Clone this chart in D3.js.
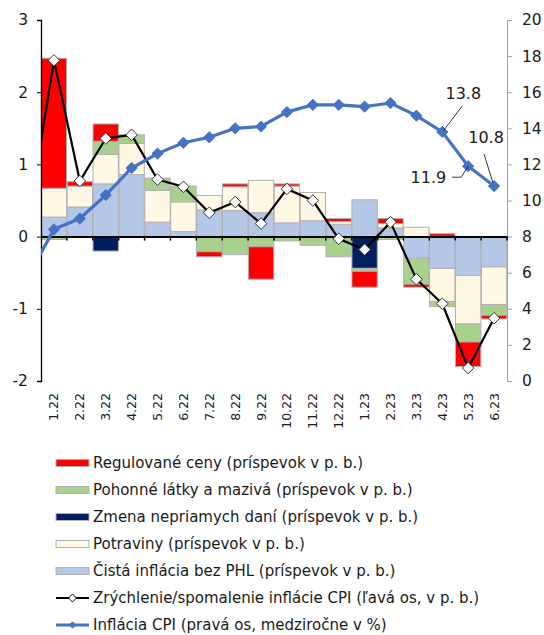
<!DOCTYPE html>
<html>
<head>
<meta charset="utf-8">
<script src="https://cdn.jsdelivr.net/npm/d3@7"></script>
<style>
  body { margin: 0; background: #fff; }
  svg text { font-family: "DejaVu Sans", Verdana, sans-serif; fill: #1a1a1a; }
</style>
</head>
<body>
<div id="chart"></div>
<script>
// inflation contributions chart

const months = ["1.22", "2.22", "3.22", "4.22", "5.22", "6.22", "7.22", "8.22", "9.22",
    "10.22", "11.22", "12.22", "1.23", "2.23", "3.23", "4.23", "5.23", "6.23"];

// contributions in p.p. (stacked bars)
const regulated = [1.80, 0.06, 0.24, 0, 0, 0, -0.07, 0.04, -0.45, 0.03, 0, 0.04, -0.22, 0.07, -0.04, 0.04, -0.34, -0.05];
const fuel = [-0.04, 0, 0.18, 0.12, 0.17, 0.22, -0.21, -0.25, -0.14, -0.06, -0.12, -0.28, -0.04, -0.04, -0.36, -0.07, -0.25, -0.15];
const taxes = [0, 0, -0.20, 0, 0, 0, 0, 0, 0, 0, 0, 0, -0.44, 0, 0, 0, 0, 0];
const food = [0.40, 0.29, 0.41, 0.43, 0.44, 0.41, 0.20, 0.33, 0.45, 0.51, 0.39, 0.04, 0, 0.06, 0.13, -0.46, -0.67, -0.52];
const core = [0.27, 0.41, 0.73, 0.86, 0.20, 0.07, 0.37, 0.36, 0.33, 0.19, 0.22, 0.17, 0.51, 0.12, -0.30, -0.44, -0.54, -0.42];

// acceleration of CPI (left axis) and CPI y/y (right axis)
const accel = [2.44, 0.77, 1.36, 1.41, 0.79, 0.69, 0.33, 0.48, 0.18, 0.66, 0.50, -0.03, -0.18, 0.20, -0.59, -0.93, -1.82, -1.13];
const cpi = [8.4, 9.0, 10.3, 11.8, 12.6, 13.2, 13.5, 14.0, 14.1, 14.9, 15.3, 15.3, 15.2, 15.4, 14.7, 13.8, 11.9, 10.8];
// previous month (12.21), only the line stub entering the plot is visible
const prevAccel = 0.2;
const prevCpi = 5.8;

const leftTicks = [-2, -1, 0, 1, 2, 3];
const rightTicks = [0, 2, 4, 6, 8, 10, 12, 14, 16, 18, 20];

const labelled = [
    { month: "4.23", text: "13.8" },
    { month: "5.23", text: "11.9" },
    { month: "6.23", text: "10.8" }
];

const series = [
    { key: "reg", name: "Regulované ceny (príspevok v p. b.)", color: "#ff0000", values: regulated },
    { key: "fuel", name: "Pohonné látky a mazivá (príspevok v p. b.)", color: "#a9d18e", values: fuel },
    { key: "tax", name: "Zmena nepriamych daní (príspevok v p. b.)", color: "#002060", values: taxes },
    { key: "food", name: "Potraviny (príspevok v p. b.)", color: "#fff8e4", values: food },
    { key: "core", name: "Čistá inflácia bez PHL (príspevok v p. b.)", color: "#b4c7e7", values: core }
];

const width = 544, height = 635;
const margin = { top: 20, right: 37, bottom: 254, left: 41 };
const plotW = width - margin.left - margin.right;
const plotH = height - margin.top - margin.bottom;

const svg = d3.select("#chart").append("svg")
    .attr("width", width)
    .attr("height", height);

const g = svg.append("g")
    .attr("transform", `translate(${margin.left}, ${margin.top})`);

const x = d3.scaleBand().domain(months).range([0, plotW]).paddingInner(0.02).paddingOuter(0.01);
const yL = d3.scaleLinear().domain([-2, 3]).range([plotH, 0]);
const yR = d3.scaleLinear().domain([0, 20]).range([plotH, 0]);

// table for stacking
const table = months.map((m, i) => {
    const row = { month: m };
    series.forEach(s => row[s.key] = s.values[i]);
    return row;
});

// stack bottom-up: core, food, tax, fuel, regulated
const stackKeys = ["core", "food", "tax", "fuel", "reg"];
const stacked = d3.stack().keys(stackKeys).offset(d3.stackOffsetDiverging)(table);
const colorOf = {};
series.forEach(s => colorOf[s.key] = s.color);

g.append("clipPath").attr("id", "plotclip")
    .append("rect").attr("width", plotW).attr("height", plotH);

g.append("g").selectAll("g")
    .data(stacked)
    .enter().append("g")
    .attr("fill", d => colorOf[d.key])
    .selectAll("rect")
    .data(d => d.filter(p => p[1] - p[0] !== 0))
    .enter().append("rect")
    .attr("x", d => x(d.data.month))
    .attr("width", x.bandwidth())
    .attr("y", d => yL(Math.max(d[0], d[1])))
    .attr("height", d => Math.abs(yL(d[0]) - yL(d[1])))
    .attr("stroke", "#b0b0b0")
    .attr("stroke-width", 1);

// left axis
const axL = g.append("g")
    .call(d3.axisLeft(yL).tickValues(leftTicks).tickSize(4).tickPadding(9).tickFormat(d => String(d)));
axL.select(".domain").attr("stroke", "#000").attr("stroke-width", 1.3);
axL.selectAll(".tick line").attr("stroke", "#000");
axL.selectAll("text").style("font-size", "15.5px").attr("fill", "#1a1a1a");

// right axis
const axR = g.append("g")
    .attr("transform", `translate(${plotW}, 0)`)
    .call(d3.axisRight(yR).tickValues(rightTicks).tickSize(5).tickPadding(10));
axR.select(".domain").attr("stroke", "#a0a0a0");
axR.selectAll(".tick line").attr("stroke", "#a0a0a0");
axR.selectAll("text").style("font-size", "15.5px").attr("fill", "#1a1a1a");

// zero line with category ticks
const axX = g.append("g")
    .attr("transform", `translate(0, ${yL(0)})`)
    .call(d3.axisBottom(x).tickSize(0).tickFormat(""));
axX.select(".domain").attr("stroke", "#000").attr("stroke-width", 2);
axX.selectAll(".tick").remove();
axX.selectAll(".sep")
    .data(d3.range(1, months.length + 1))
    .enter().append("line")
    .attr("x1", i => i * x.step()).attr("x2", i => i * x.step())
    .attr("y1", 0).attr("y2", 4)
    .attr("stroke", "#000").attr("stroke-width", 1.5);

// category labels, rotated
g.append("g").selectAll("text")
    .data(months)
    .enter().append("text")
    .attr("transform", d => `translate(${x(d) + x.bandwidth() / 2}, ${plotH + 12}) rotate(-90)`)
    .attr("text-anchor", "end")
    .attr("dy", "0.36em")
    .style("font-size", "12.5px")
    .text(d => d);

const cx = m => x(m) + x.bandwidth() / 2;
const firstX = cx(months[0]) - x.step();

const lines = g.append("g").attr("clip-path", "url(#plotclip)");

// acceleration line (left axis)
const accelPts = [[firstX, yL(prevAccel)]].concat(months.map((m, i) => [cx(m), yL(accel[i])]));
lines.append("path")
    .attr("d", d3.line()(accelPts))
    .attr("fill", "none")
    .attr("stroke", "#000")
    .attr("stroke-width", 2.2);

// CPI line (right axis)
const cpiPts = [[firstX, yR(prevCpi)]].concat(months.map((m, i) => [cx(m), yR(cpi[i])]));
lines.append("path")
    .attr("d", d3.line()(cpiPts))
    .attr("fill", "none")
    .attr("stroke", "#4472c4")
    .attr("stroke-width", 3.2);

const diamond = d3.symbol().type(d3.symbolDiamond2);

g.append("g").selectAll("path")
    .data(months)
    .enter().append("path")
    .attr("transform", (m, i) => `translate(${cx(m)}, ${yR(cpi[i])})`)
    .attr("d", diamond.size(80)())
    .attr("fill", "#4472c4")
    .attr("stroke", "#4472c4");

g.append("g").selectAll("path")
    .data(months)
    .enter().append("path")
    .attr("transform", (m, i) => `translate(${cx(m)}, ${yL(accel[i])})`)
    .attr("d", diamond.size(85)())
    .attr("fill", "#fff")
    .attr("stroke", "#333")
    .attr("stroke-width", 1);

// data labels for the last CPI values with leader lines
const labelOffsets = {
    "4.23": { tx: 21, ty: -33, lead: [[20, -26], [1, -1]], anchor: "middle" },
    "5.23": { tx: -22, ty: 17, lead: [[-16, 11], [-7, 11], [0, 0]], anchor: "end" },
    "6.23": { tx: -8, ty: -43, lead: [[-10, -32], [-1, -3]], anchor: "middle" }
};
const labG = g.append("g");
labelled.forEach(l => {
    const i = months.indexOf(l.month);
    const px = cx(l.month), py = yR(cpi[i]);
    const o = labelOffsets[l.month];
    labG.append("path")
        .attr("d", d3.line()(o.lead.map(p => [px + p[0], py + p[1]])))
        .attr("fill", "none")
        .attr("stroke", "#333")
        .attr("stroke-width", 1);
    labG.append("text")
        .attr("x", px + o.tx)
        .attr("y", py + o.ty)
        .attr("text-anchor", o.anchor)
        .style("font-size", "16px")
        .text(l.text);
});

// legend
const legend = svg.append("g").attr("transform", "translate(56, 463)");
const rowH = 27;
series.forEach((s, i) => {
    const row = legend.append("g").attr("transform", `translate(0, ${i * rowH})`);
    row.append("rect")
        .attr("x", 0).attr("y", -3.5)
        .attr("width", 33).attr("height", 7)
        .attr("fill", s.color)
        .attr("stroke", "#b0b0b0");
    row.append("text")
        .attr("x", 37).attr("dy", "0.36em")
        .style("font-size", "15px")
        .text(s.name);
});

const lineItems = [
    { name: "Zrýchlenie/spomalenie inflácie CPI (ľavá os, v p. b.)", color: "#000", mfill: "#fff", size: 40, w: 2 },
    { name: "Inflácia CPI (pravá os, medziročne v %)", color: "#4472c4", mfill: "#4472c4", size: 25, w: 3 }
];
lineItems.forEach((s, j) => {
    const row = legend.append("g").attr("transform", `translate(0, ${(series.length + j) * rowH})`);
    row.append("line")
        .attr("x1", 0).attr("x2", 33)
        .attr("stroke", s.color).attr("stroke-width", s.w);
    row.append("path")
        .attr("transform", "translate(16.5, 0)")
        .attr("d", diamond.size(s.size)())
        .attr("fill", s.mfill)
        .attr("stroke", s.color);
    row.append("text")
        .attr("x", 37).attr("dy", "0.36em")
        .style("font-size", "15px")
        .text(s.name);
});
</script>
</body>
</html>
